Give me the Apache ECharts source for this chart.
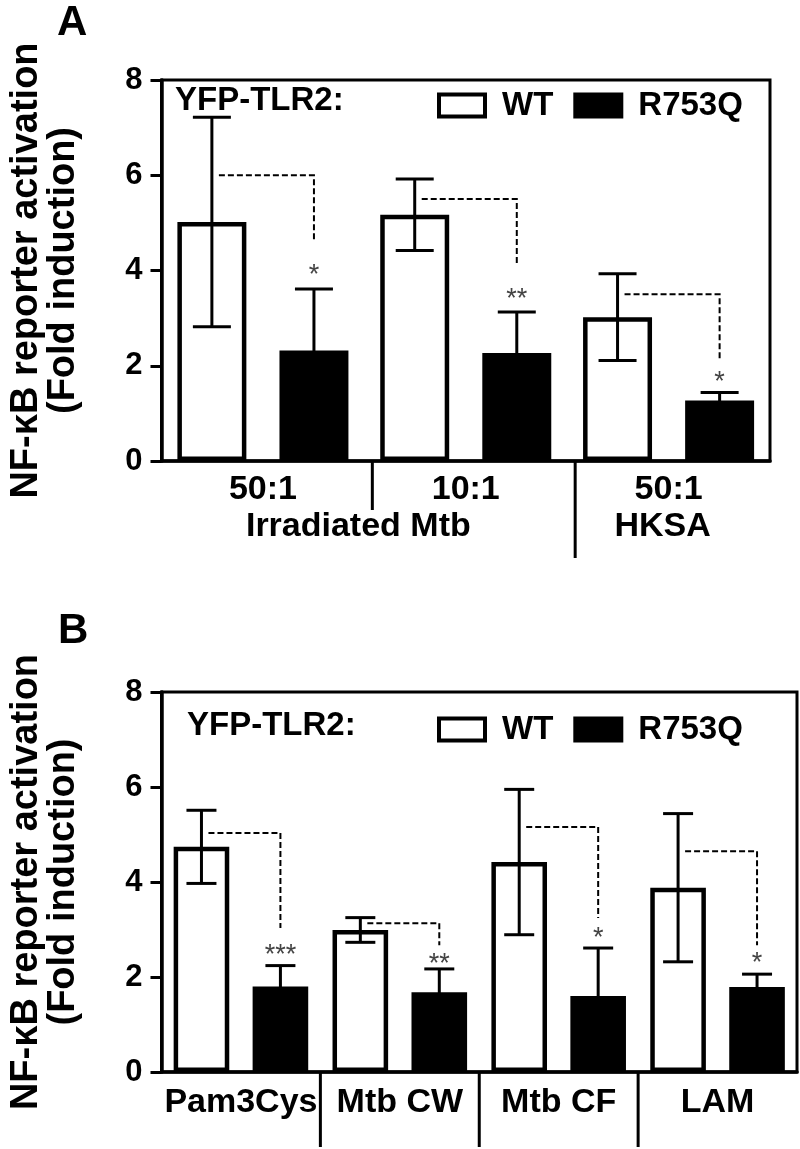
<!DOCTYPE html>
<html>
<head>
<meta charset="utf-8">
<script src="https://cdn.jsdelivr.net/npm/echarts@6/dist/echarts.min.js"></script>
<style>
html, body { margin: 0; padding: 0; background: #fff; }
#chart { width: 800px; height: 1149px; }
</style>
</head>
<body>
<div id="chart"></div>
<script>
// panel A: whole bacteria
var catsA = ['50:1', '10:1', '50:1'];
var groupNamesA = ['Irradiated Mtb', 'HKSA'];
var groupFromA = [0, 2];
var groupToA = [1, 2];
var wtA = [5.02, 5.17, 3.02];
var wtErrA = [2.2, 0.75, 0.91];
var mutA = [2.32, 2.27, 1.27];
var mutErrA = [1.29, 0.86, 0.17];
var bracketTopA = [6.0, 5.5, 3.5];
var bracketEndA = [4.6, 4.16, 2.16];
var starA = ['*', '**', '*'];
var starYA = [4.05, 3.53, 1.8];

// panel B: purified ligands
var catsB = ['Pam3Cys', 'Mtb CW', 'Mtb CF', 'LAM'];
var wtB = [4.74, 2.99, 4.42, 3.88];
var wtErrB = [0.77, 0.26, 1.53, 1.56];
var mutB = [1.8, 1.68, 1.6, 1.79];
var mutErrB = [0.44, 0.49, 1.01, 0.27];
var bracketTopB = [5.03, 3.13, 5.16, 4.65];
var bracketEndB = [3.03, 2.67, 3.24, 2.67];
var starB = ['***', '**', '*', '*'];
var starYB = [2.6, 2.42, 2.95, 2.44];

var yTicks = [0, 2, 4, 6, 8];

var FONT = '"Liberation Sans", Arial, sans-serif';
var chart = echarts.init(document.getElementById('chart'));

// bar layout per panel (fraction of band, gap as fraction of bar)
var layA = {bar: 0.34, gap: 0.48, cap: 38};
var layB = {bar: 0.35, gap: 0.42, cap: 30};

function barOffset(api, lay) {
    var band = api.size([1, 0])[0];
    return band * lay.bar * (1 + lay.gap) / 2;
}

// error bars, side -1 = WT, +1 = R753Q
function errorRender(lay, side) {
    return function (params, api) {
        var cat = api.value(0), mean = api.value(1), err = api.value(2);
        var top = api.coord([cat, mean + err]);
        var bot = api.coord([cat, mean - err]);
        var x = top[0] + side * barOffset(api, lay);
        var st = {stroke: '#000', lineWidth: 3};
        var h = lay.cap / 2;
        return {
            type: 'group',
            children: [
                {type: 'line', shape: {x1: x, y1: top[1], x2: x, y2: bot[1]}, style: st},
                {type: 'line', shape: {x1: x - h, y1: top[1], x2: x + h, y2: top[1]}, style: st},
                {type: 'line', shape: {x1: x - h, y1: bot[1], x2: x + h, y2: bot[1]}, style: st}
            ]
        };
    };
}

// dashed significance bracket + asterisks
function bracketRender(lay, stars) {
    return function (params, api) {
        var i = api.value(0);
        var off = barOffset(api, lay);
        var p1 = api.coord([i, api.value(1)]);
        var p2 = api.coord([i, api.value(2)]);
        var p3 = api.coord([i, api.value(3)]);
        var xw = p1[0] - off + 7, xm = p1[0] + off;
        return {
            type: 'group',
            children: [
                {
                    type: 'polyline',
                    shape: {points: [[xw, p1[1]], [xm, p1[1]], [xm, p2[1]]]},
                    style: {stroke: '#000', fill: null, lineWidth: 2, lineDash: [6, 3]}
                },
                {
                    type: 'text', x: xm, y: p3[1] + 7,
                    style: {
                        text: stars[params.dataIndex], fill: '#444',
                        font: 'normal 27px ' + FONT, align: 'center', verticalAlign: 'middle'
                    }
                }
            ]
        };
    };
}

// divider lines below the category axis
function dividerRender(lenFn, shift) {
    return function (params, api) {
        var i = api.value(0);
        var band = api.size([1, 0])[0];
        var p = api.coord([i, 0]);
        var x = p[0] + band / 2 + shift;
        return {
            type: 'line',
            shape: {x1: x, y1: p[1], x2: x, y2: p[1] + lenFn(i)},
            style: {stroke: '#000', lineWidth: 3}
        };
    };
}

function idx(n) {
    var out = [];
    for (var i = 0; i < n; i++) out.push(i);
    return out;
}

function zip(a, b, c, d) {
    return a.map(function (v, i) {
        var row = [i, v, b[i]];
        if (c) row.push(c[i]);
        if (d) row.push(d[i]);
        return row;
    });
}

function yAxis(gridIndex) {
    return {
        type: 'value', gridIndex: gridIndex, min: 0, max: 8, interval: 2,
        name: 'NF-\u03baB reporter activation\n(Fold induction)',
        nameLocation: 'middle', nameRotate: 90, nameGap: 79,
        nameTextStyle: {fontFamily: FONT, fontWeight: 'bold', fontSize: 38, lineHeight: 37, color: '#000'},
        axisLine: {show: true, lineStyle: {color: '#000', width: 3.5}},
        axisTick: {show: true, length: 11, lineStyle: {color: '#000', width: 3}},
        splitLine: {show: false},
        axisLabel: {
            margin: 19, fontFamily: FONT, fontWeight: 'bold', fontSize: 31, color: '#000',
            formatter: function (v) { return yTicks.indexOf(v) >= 0 ? String(v) : ''; }
        }
    };
}

function xAxis(gridIndex, cats, margin) {
    return {
        type: 'category', gridIndex: gridIndex, data: cats,
        axisLine: {show: true, lineStyle: {color: '#000', width: 3.5}},
        axisTick: {show: false},
        axisLabel: {margin: margin, fontFamily: FONT, fontWeight: 'bold', fontSize: 34, color: '#000', interval: 0}
    };
}

function legend(top) {
    return {
        top: top, left: 437, padding: 0, itemWidth: 46, itemHeight: 22, itemGap: 20,
        selectedMode: false, icon: 'rect',
        textStyle: {fontFamily: FONT, fontWeight: 'bold', fontSize: 33, color: '#000', padding: [0, 0, 0, 12]},
        data: [
            {name: 'WT', itemStyle: {color: '#fff', borderColor: '#000', borderWidth: 4}},
            {name: 'R753Q', itemStyle: {color: '#000', borderColor: '#000', borderWidth: 4}}
        ]
    };
}

var option = {
    animation: false,
    backgroundColor: '#fff',
    grid: [
        {left: 157, top: 80, width: 613, height: 381, show: true, borderColor: '#000', borderWidth: 3, backgroundColor: 'transparent'},
        {left: 159, top: 692, width: 638, height: 380, show: true, borderColor: '#000', borderWidth: 3, backgroundColor: 'transparent'}
    ],
    xAxis: [xAxis(0, catsA, 12), xAxis(1, catsB, 14)],
    yAxis: [yAxis(0), yAxis(1)],
    legend: [legend(89), legend(713)],
    graphic: [
        {type: 'text', left: 57, top: 2, style: {text: 'A', font: 'bold 42px ' + FONT, fill: '#000'}},
        {type: 'text', left: 58, top: 610, style: {text: 'B', font: 'bold 42px ' + FONT, fill: '#000'}},
        {type: 'text', left: 175, top: 84, style: {text: 'YFP-TLR2:', font: 'bold 33px ' + FONT, fill: '#000'}},
        {type: 'text', left: 187, top: 709, style: {text: 'YFP-TLR2:', font: 'bold 33px ' + FONT, fill: '#000'}}
    ],
    series: [
        // panel A
        {
            name: 'WT', type: 'bar', xAxisIndex: 0, yAxisIndex: 0, data: wtA,
            barWidth: (layA.bar * 100) + '%', barGap: (layA.gap * 100) + '%',
            itemStyle: {color: '#fff', borderColor: '#000', borderWidth: 4.5}
        },
        {
            name: 'R753Q', type: 'bar', xAxisIndex: 0, yAxisIndex: 0, data: mutA,
            barWidth: (layA.bar * 100) + '%', barGap: (layA.gap * 100) + '%',
            itemStyle: {color: '#000'}
        },
        {type: 'custom', xAxisIndex: 0, yAxisIndex: 0, z: 5, clip: false, data: zip(wtA, wtErrA), renderItem: errorRender(layA, -1)},
        {type: 'custom', xAxisIndex: 0, yAxisIndex: 0, z: 5, clip: false, data: zip(mutA, mutErrA), renderItem: errorRender(layA, 1)},
        {type: 'custom', xAxisIndex: 0, yAxisIndex: 0, z: 5, clip: false, data: zip(bracketTopA, bracketEndA, starYA), renderItem: bracketRender(layA, starA)},
        {
            type: 'custom', xAxisIndex: 0, yAxisIndex: 0, z: 5, clip: false,
            data: idx(catsA.length - 1).map(function (i) { return [i, 0]; }),
            renderItem: dividerRender(function (i) { return groupToA.indexOf(i) >= 0 ? 97 : 49; }, 8)
        },
        {
            type: 'custom', xAxisIndex: 0, yAxisIndex: 0, z: 5, clip: false,
            data: groupFromA.map(function (g, i) { return [g, groupToA[i]]; }),
            renderItem: function (params, api) {
                var a = api.coord([api.value(0), 0]);
                var b = api.coord([api.value(1), 0]);
                return {
                    type: 'text', x: (a[0] + b[0]) / 2 - 6, y: a[1] + 49,
                    style: {
                        text: groupNamesA[params.dataIndex], font: 'bold 34px ' + FONT,
                        fill: '#000', align: 'center', verticalAlign: 'top'
                    }
                };
            }
        },
        // panel B
        {
            name: 'WT', type: 'bar', xAxisIndex: 1, yAxisIndex: 1, data: wtB,
            barWidth: (layB.bar * 100) + '%', barGap: (layB.gap * 100) + '%',
            itemStyle: {color: '#fff', borderColor: '#000', borderWidth: 4.5}
        },
        {
            name: 'R753Q', type: 'bar', xAxisIndex: 1, yAxisIndex: 1, data: mutB,
            barWidth: (layB.bar * 100) + '%', barGap: (layB.gap * 100) + '%',
            itemStyle: {color: '#000'}
        },
        {type: 'custom', xAxisIndex: 1, yAxisIndex: 1, z: 5, clip: false, data: zip(wtB, wtErrB), renderItem: errorRender(layB, -1)},
        {type: 'custom', xAxisIndex: 1, yAxisIndex: 1, z: 5, clip: false, data: zip(mutB, mutErrB), renderItem: errorRender(layB, 1)},
        {type: 'custom', xAxisIndex: 1, yAxisIndex: 1, z: 5, clip: false, data: zip(bracketTopB, bracketEndB, starYB), renderItem: bracketRender(layB, starB)},
        {
            type: 'custom', xAxisIndex: 1, yAxisIndex: 1, z: 5, clip: false,
            data: idx(catsB.length - 1).map(function (i) { return [i, 0]; }),
            renderItem: dividerRender(function () { return 75; }, 0)
        }
    ]
};

chart.setOption(option);
</script>
</body>
</html>
